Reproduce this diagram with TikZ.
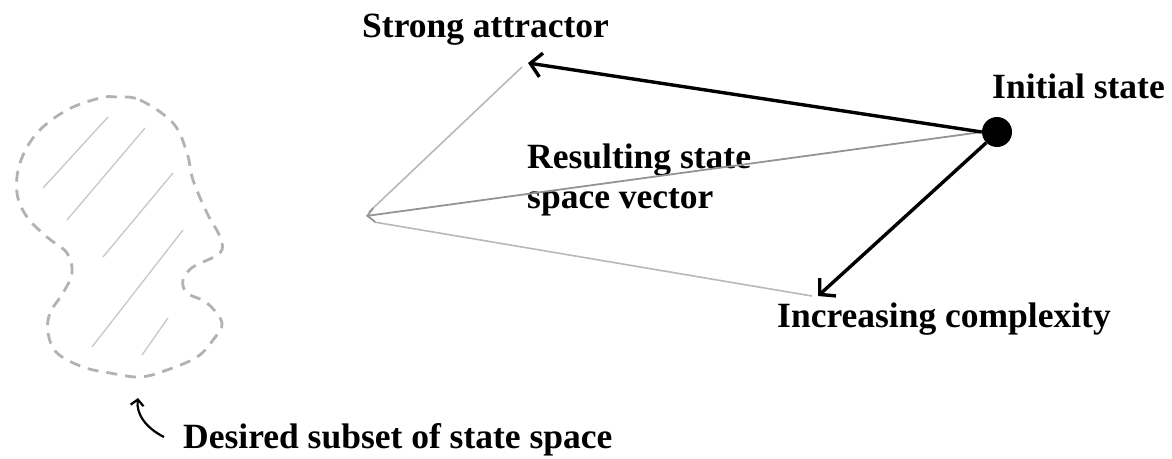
\documentclass[tikz,border=0pt]{standalone}
\usepackage{fontspec}
\setmainfont{Liberation Serif}
\usetikzlibrary{arrows.meta}
\begin{document}
\begin{tikzpicture}[x=1pt,y=-1pt,
  lbl/.style={font=\fontsize{35.5}{40}\selectfont\bfseries, inner sep=0pt, anchor=base west, align=left},
  blackarrow/.style={line width=3.4pt, black, -{Straight Barb[length=11pt,width=24pt,line width=3.4pt]}},
  grayline/.style={line width=1.6pt, black!28},
  grayarrow/.style={line width=1.8pt, black!42, -{Straight Barb[length=7pt,width=14pt,line width=1.8pt]}},
  blobline/.style={line width=2.8pt, black!30, dash pattern=on 11pt off 8pt},
  hatch/.style={line width=1.3pt, black!22}]
\useasboundingbox (0,0) rectangle (1172,458);
% nodes
\node[circle, fill=black, minimum size=30pt, inner sep=0pt] (dot) at (997,132) {};
\node[lbl] (tinit) at (992,98) {Initial state};
\node[lbl] (tstrong) at (362,37) {Strong attractor};
\node[lbl] (tinc) at (777,327) {Increasing complexity};
\node[lbl] (tres) at (527,208) {Resulting state\\[0pt]space vector};
\node[lbl] (tdes) at (183,448) {Desired subset of state space};
\coordinate (sa) at (528,63);
\coordinate (ic) at (818,296);
\coordinate (rv) at (366,216);
\coordinate (sa2) at (522,67);
\coordinate (rv2) at (369,212);
\coordinate (rv3) at (374,222);
\coordinate (ic2) at (812,296);
% gray parallelogram
\draw[grayline] (sa2) -- (rv2);
\draw[grayline] (rv3) -- (ic2);
\draw[grayarrow] (dot.west) -- (rv);
% black arrows
\draw[blackarrow] (dot.west) -- (sa);
\draw[blackarrow] (dot.south west) -- (ic);
% blob
\draw[blobline] plot[smooth cycle, tension=0.6] coordinates {
 (117,97) (140,100) (173,123) (187,153) (193,180) (207,213) (220,237) (220,253)
 (193,267) (183,280) (187,293) (207,303) (222,323) (213,340) (197,357) (167,370)
 (140,377) (110,373) (83,367) (57,353) (48,333) (50,313) (63,293) (72,273)
 (67,253) (47,237) (27,217) (17,193) (20,163) (37,133) (67,110) (100,98)};
\draw[hatch] (43,188) -- (108,117);
\draw[hatch] (67,220) -- (145,128);
\draw[hatch] (103,257) -- (173,173);
\draw[hatch] (92,347) -- (183,230);
\draw[hatch] (142,355) -- (168,318);
% small pointer arrow
\coordinate (pstart) at (164,437);
\coordinate (ptip) at (138,398);
\draw[line width=2.2pt, -{Straight Barb[length=6pt,width=13pt,line width=2.2pt]}] (pstart) .. controls (146,428) and (136,414) .. (ptip);
\end{tikzpicture}
\end{document}
